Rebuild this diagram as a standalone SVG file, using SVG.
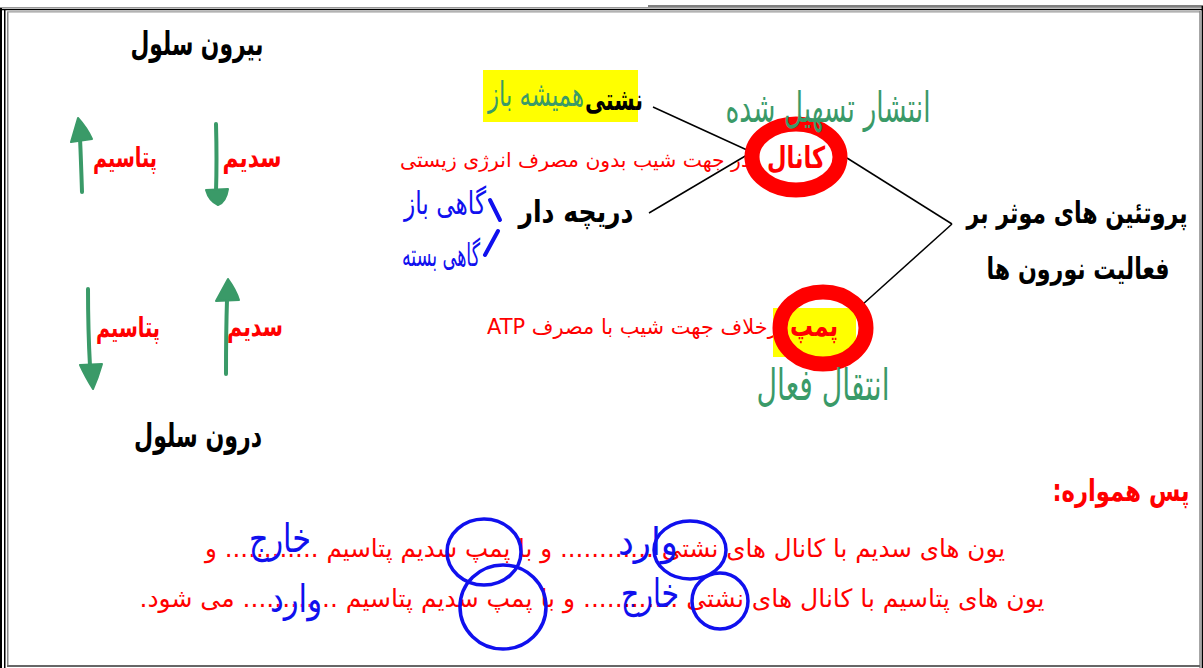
<svg xmlns="http://www.w3.org/2000/svg" width="1203" height="668" viewBox="0 0 1203 668">
<style>
text{font-family:"DejaVu Sans","Noto Sans",sans-serif;direction:rtl;}
.bk{font-weight:bold;fill:#000;}
.rb{font-weight:bold;fill:#ff0000;}
.rn{fill:#ff0000;}
.gh{fill:#3a9a68;}
.bh{fill:#1010ee;}
.arr{stroke:#3a9a68;stroke-width:4;stroke-linecap:round;fill:none;}
.head{fill:#3a9a68;stroke:#3a9a68;stroke-width:2;stroke-linejoin:round;}
.con{stroke:#000;stroke-width:1.5;fill:none;}
.ring{fill:none;stroke:#ff0000;stroke-width:15;}
.bc{fill:none;stroke:#1010ee;stroke-width:3.5;}
.bs{fill:none;stroke:#1010ee;stroke-width:4;stroke-linecap:round;}
</style>
<rect x="0" y="0" width="1203" height="668" fill="#fff"/>
<g id="frame">
<rect x="0" y="8" width="2" height="660" fill="#000"/>
<rect x="4" y="10" width="1.5" height="658" fill="#000"/>
<rect x="7" y="12" width="1.5" height="654" fill="#888"/>
<line x1="648" y1="6" x2="1203" y2="6" stroke="#000" stroke-width="1"/>
<line x1="0" y1="7.5" x2="1203" y2="7.5" stroke="#999" stroke-width="1.2"/>
<line x1="0" y1="9.5" x2="1203" y2="9.5" stroke="#000" stroke-width="1.5"/>
<line x1="7" y1="11.8" x2="1200" y2="11.8" stroke="#999" stroke-width="1.2"/>
<line x1="1200" y1="11" x2="1200" y2="668" stroke="#888" stroke-width="1.5"/>
<line x1="1202.3" y1="6" x2="1202.3" y2="668" stroke="#000" stroke-width="1.4"/>
<line x1="7" y1="666" x2="1200" y2="666" stroke="#666" stroke-width="2"/>
</g>
<g id="outside-label"><text class="bk" x="197" y="55" font-size="33" text-anchor="middle" textLength="133" lengthAdjust="spacingAndGlyphs">بیرون سلول</text></g>
<g id="inside-label"><text class="bk" x="198" y="447" font-size="33" text-anchor="middle" textLength="128" lengthAdjust="spacingAndGlyphs">درون سلول</text></g>
<g id="top-sodium">
<text class="rb" x="252" y="167" font-size="28" text-anchor="middle" textLength="59" lengthAdjust="spacingAndGlyphs">سدیم</text>
<path class="arr" d="M216 124 Q217 160 216 192"/>
<path class="head" d="M206 190 L228 189 Q226 202 218 205 Q209 201 206 190 Z"/>
</g>
<g id="top-potassium">
<text class="rb" x="125" y="167" font-size="28" text-anchor="middle" textLength="64" lengthAdjust="spacingAndGlyphs">پتاسیم</text>
<path class="arr" d="M82 192 Q81 160 80 138"/>
<path class="head" d="M71 142 L78 118 Q87 128 92 139 Z"/>
</g>
<g id="bottom-sodium">
<text class="rb" x="255" y="336" font-size="28" text-anchor="middle" textLength="56" lengthAdjust="spacingAndGlyphs">سدیم</text>
<path class="arr" d="M226 374 Q226 330 227 300"/>
<path class="head" d="M216 301 L228 279 Q236 290 239 300 Z"/>
</g>
<g id="bottom-potassium">
<text class="rb" x="128" y="337" font-size="28" text-anchor="middle" textLength="64" lengthAdjust="spacingAndGlyphs">پتاسیم</text>
<path class="arr" d="M88 289 Q88 330 90 366"/>
<path class="head" d="M80 365 L102 364 Q98 378 93 389 Q85 376 80 365 Z"/>
</g>
<g id="connectors">
<line class="con" x1="653" y1="107" x2="747" y2="150"/>
<line class="con" x1="649" y1="213" x2="747" y2="155"/>
<line class="con" x1="847" y1="158" x2="952" y2="224"/>
<line class="con" x1="952" y1="224" x2="862" y2="305"/>
</g>
<g id="leak">
<rect x="483" y="70" width="155" height="52" fill="#ffff00"/>
<text class="bk" x="614" y="110" font-size="30" text-anchor="middle" textLength="58" lengthAdjust="spacingAndGlyphs">نشتی</text>
<text class="gh" x="536" y="106" font-size="34" text-anchor="middle" textLength="96" lengthAdjust="spacingAndGlyphs">همیشه باز</text>
</g>
<g id="gated">
<text class="bk" x="576" y="222" font-size="30" text-anchor="middle" textLength="115" lengthAdjust="spacingAndGlyphs">دریچه دار</text>
<text class="bh" x="445" y="214" font-size="32" text-anchor="middle" textLength="82" lengthAdjust="spacingAndGlyphs">گاهی باز</text>
<text class="bh" x="441" y="266" font-size="32" text-anchor="middle" textLength="78" lengthAdjust="spacingAndGlyphs">گاهی بسته</text>
<path class="bs" d="M490 200 L500 220"/>
<path class="bs" d="M498 231 L485 255"/>
</g>
<g id="passive-note">
<text class="rn" x="575" y="167" font-size="20" text-anchor="middle" textLength="350" lengthAdjust="spacingAndGlyphs">در جهت شیب بدون مصرف انرژی زیستی</text>
</g>
<g id="active-note">
<text class="rn" x="636" y="334" font-size="21" text-anchor="middle" textLength="298" lengthAdjust="spacingAndGlyphs">برخلاف جهت شیب با مصرف ATP</text>
</g>
<g id="channel">
<ellipse class="ring" cx="796" cy="157" rx="44" ry="33"/>
<text class="rb" x="796" y="168" font-size="30" text-anchor="middle" textLength="58" lengthAdjust="spacingAndGlyphs">کانال</text>
<text class="gh" x="828" y="122" font-size="42" text-anchor="middle" textLength="205" lengthAdjust="spacingAndGlyphs">انتشار تسهیل شده</text>
</g>
<g id="pump">
<rect x="773" y="308" width="83" height="49" fill="#ffff00"/>
<ellipse class="ring" cx="823" cy="328" rx="43" ry="36"/>
<text class="rb" x="814" y="336" font-size="30" text-anchor="middle" textLength="48" lengthAdjust="spacingAndGlyphs">پمپ</text>
<text class="gh" x="823" y="400" font-size="44" text-anchor="middle" textLength="133" lengthAdjust="spacingAndGlyphs">انتقال فعال</text>
</g>
<g id="proteins">
<text class="bk" transform="translate(1077,223) scale(1,1.35)" x="0" y="0" font-size="22" text-anchor="middle" textLength="221" lengthAdjust="spacingAndGlyphs">پروتئین های موثر بر</text>
<text class="bk" transform="translate(1078,279) scale(1,1.35)" x="0" y="0" font-size="22" text-anchor="middle" textLength="183" lengthAdjust="spacingAndGlyphs">فعالیت نورون ها</text>
</g>
<g id="summary">
<text class="rb" transform="translate(1121,501) scale(1,1.3)" x="0" y="0" font-size="23" text-anchor="middle" textLength="137" lengthAdjust="spacingAndGlyphs">پس همواره:</text>
<text class="rn" x="605" y="557" font-size="25" text-anchor="middle" textLength="800" lengthAdjust="spacingAndGlyphs">یون های سدیم با کانال های نشتی ............ و با پمپ سدیم پتاسیم ............ و</text>
<text class="rn" x="592" y="607" font-size="25" text-anchor="middle" textLength="905" lengthAdjust="spacingAndGlyphs">یون های پتاسیم با کانال های نشتی ............ و با پمپ سدیم پتاسیم ............ می شود.</text>
<ellipse class="bc" cx="690" cy="550" rx="36" ry="29"/>
<ellipse class="bc" cx="720" cy="601" rx="28" ry="28"/>
<ellipse class="bc" cx="484" cy="552" rx="37" ry="33"/>
<ellipse class="bc" cx="503" cy="607" rx="43" ry="42"/>
<text class="bh" x="648" y="555" font-size="38" text-anchor="middle" textLength="60" lengthAdjust="spacingAndGlyphs">وارد</text>
<text class="bh" x="280" y="552" font-size="40" text-anchor="middle" textLength="62" lengthAdjust="spacingAndGlyphs">خارج</text>
<text class="bh" x="650" y="607" font-size="40" text-anchor="middle" textLength="58" lengthAdjust="spacingAndGlyphs">خارج</text>
<text class="bh" x="296" y="612" font-size="38" text-anchor="middle" textLength="52" lengthAdjust="spacingAndGlyphs">وارد</text>
</g>
</svg>
